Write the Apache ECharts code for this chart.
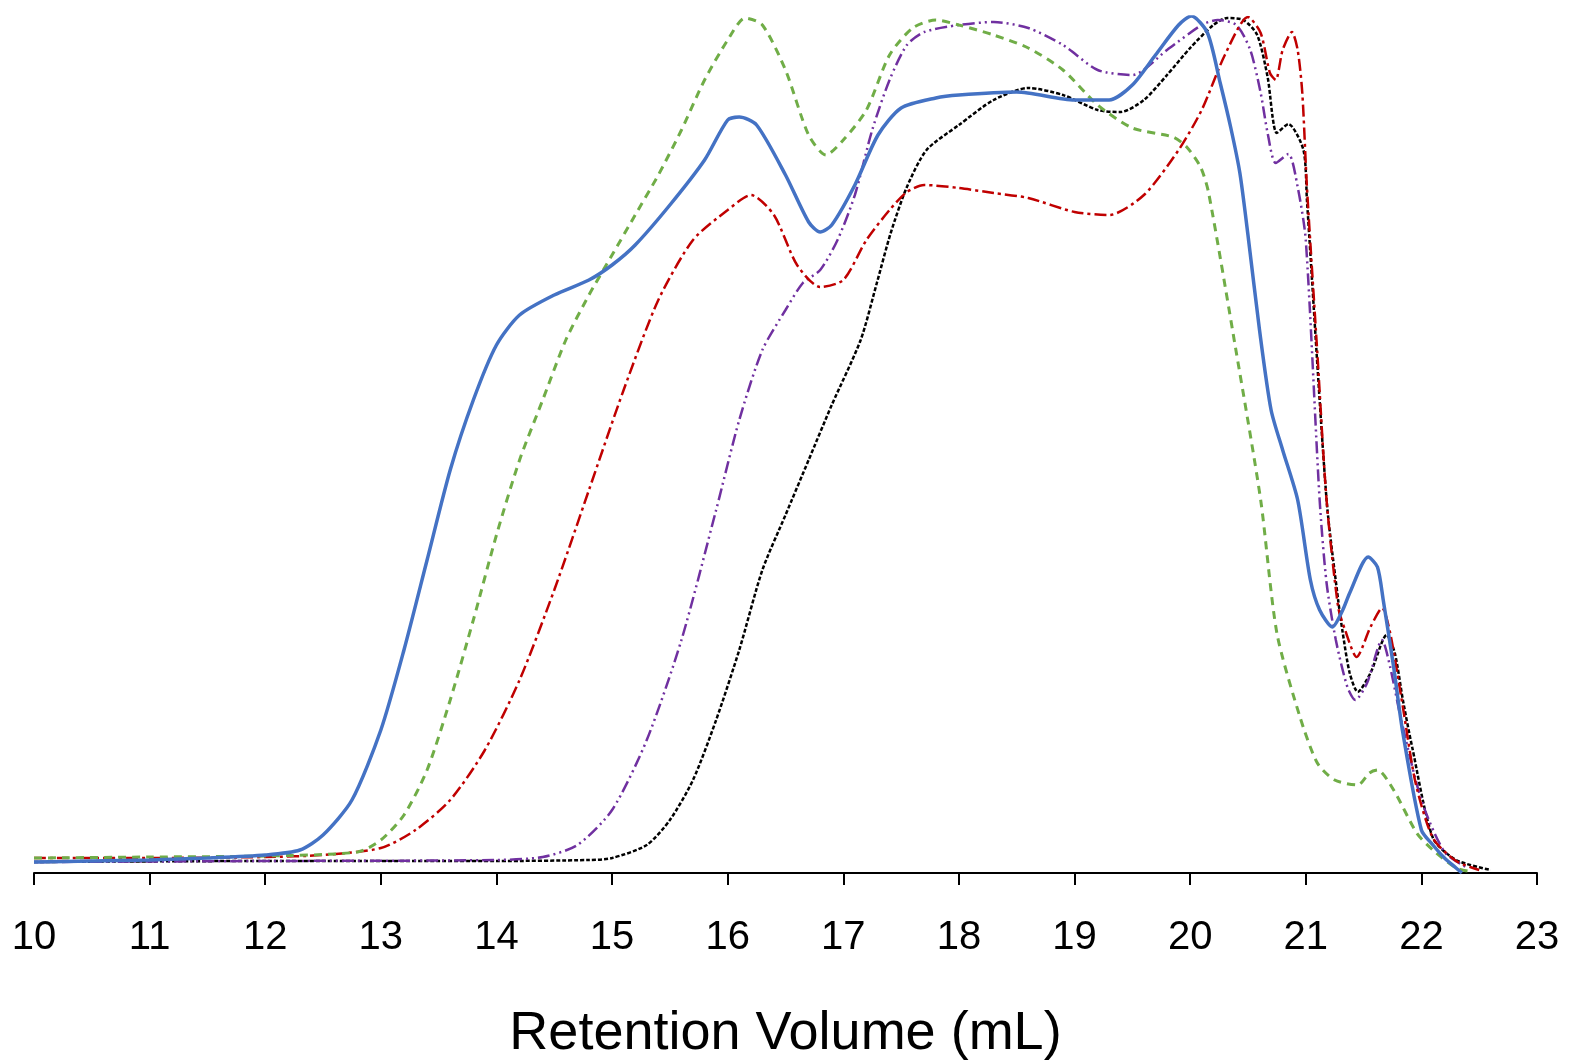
<!DOCTYPE html>
<html>
<head>
<meta charset="utf-8">
<script src="https://cdn.jsdelivr.net/npm/echarts@6/dist/echarts.min.js"></script>
<style>html,body{margin:0;padding:0;background:#fff}#c{width:1570px;height:1063px}</style>
</head>
<body>
<div id="c"></div>
<script>
// x: retention volume (mL), y: detector response (arbitrary units)
const xTicks = [10,11,12,13,14,15,16,17,18,19,20,21,22,23];

const blueSolid = [[10.0,11],[10.5,12],[11.0,13],[11.5,15],[12.0,18],[12.3,23],[12.5,38],[12.75,73],[13.0,143],[13.2,223],[13.4,313],[13.6,403],[13.8,473],[14.0,528],[14.2,558],[14.5,578],[14.8,593],[15.0,608],[15.2,628],[15.5,668],[15.8,713],[16.0,753],[16.1,756],[16.25,748],[16.5,698],[16.7,651],[16.8,641],[16.9,648],[17.1,688],[17.3,738],[17.5,765],[17.8,775],[18.0,778],[18.5,781],[19.0,773],[19.3,773],[19.5,788],[19.7,818],[19.9,848],[20.01,857],[20.15,840],[20.26,790],[20.35,746],[20.43,700],[20.5,638],[20.6,543],[20.7,463],[20.8,423],[20.93,373],[21.04,293],[21.12,263],[21.23,246],[21.32,263],[21.38,280],[21.54,316],[21.62,306],[21.67,273],[21.76,206],[21.84,140],[22.0,43],[22.1,28],[22.2,15],[22.3,5],[22.35,0]];

const greenDashed = [[10,15],[11,16],[12,17],[12.8,21],[13.0,33],[13.2,58],[13.4,103],[13.6,173],[13.8,253],[14.0,338],[14.2,413],[14.4,473],[14.6,533],[14.8,578],[15.0,618],[15.2,658],[15.4,698],[15.6,743],[15.8,793],[16.0,833],[16.15,855],[16.3,848],[16.5,803],[16.7,738],[16.85,718],[17.0,733],[17.2,763],[17.4,818],[17.6,845],[17.8,853],[18.0,848],[18.3,838],[18.6,825],[18.9,803],[19.2,768],[19.5,745],[19.85,736],[19.97,726],[20.09,706],[20.16,680],[20.4,520],[20.61,373],[20.75,240],[20.95,156],[21.1,110],[21.25,93],[21.45,88],[21.55,100],[21.62,103],[21.76,83],[21.96,40],[22.1,23],[22.3,5],[22.4,2]];

const redDashDot = [[10,15],[11,15],[12,16],[12.5,18],[13.0,25],[13.3,43],[13.6,73],[13.9,123],[14.2,193],[14.5,283],[14.8,383],[15.1,483],[15.4,573],[15.7,633],[16.0,663],[16.2,678],[16.4,658],[16.6,608],[16.8,586],[17.0,593],[17.2,633],[17.4,663],[17.55,681],[17.7,688],[18.0,685],[18.3,680],[18.6,675],[19.0,661],[19.3,658],[19.6,678],[19.9,723],[20.1,763],[20.3,818],[20.5,856],[20.61,840],[20.69,800],[20.74,793],[20.8,823],[20.88,841],[20.93,823],[20.97,780],[21.01,686],[21.1,520],[21.18,373],[21.28,266],[21.34,243],[21.44,216],[21.56,246],[21.66,265],[21.73,240],[21.84,166],[21.95,90],[22.1,35],[22.3,12],[22.5,3]];

const purpleDashDotDot = [[10,11],[12,12],[14,13],[14.4,16],[14.7,28],[15.0,63],[15.3,133],[15.6,233],[15.9,363],[16.1,453],[16.3,523],[16.5,563],[16.65,590],[16.8,603],[16.95,633],[17.1,678],[17.25,743],[17.4,793],[17.55,828],[17.7,841],[18.0,848],[18.3,851],[18.6,845],[18.9,828],[19.2,803],[19.5,798],[19.8,823],[20.1,848],[20.24,853],[20.4,848],[20.52,823],[20.61,780],[20.67,740],[20.74,710],[20.85,719],[20.93,686],[21.0,633],[21.12,373],[21.18,290],[21.26,233],[21.36,186],[21.43,173],[21.53,190],[21.66,233],[21.73,206],[21.82,156],[22.0,73],[22.2,21],[22.4,5]];

const blackDotted = [[10,11],[12,12],[14,12],[14.8,13],[15.0,15],[15.3,28],[15.5,53],[15.7,93],[15.9,153],[16.1,223],[16.3,303],[16.5,358],[16.7,413],[16.9,468],[17.15,533],[17.29,590],[17.41,640],[17.55,686],[17.72,723],[18.0,748],[18.3,773],[18.6,785],[18.9,778],[19.2,763],[19.4,761],[19.6,773],[19.8,798],[20.0,825],[20.2,848],[20.32,855],[20.46,853],[20.58,838],[20.67,796],[20.75,740],[20.85,749],[20.98,723],[21.01,673],[21.18,373],[21.28,273],[21.32,240],[21.38,200],[21.45,181],[21.56,200],[21.7,238],[21.77,220],[21.84,173],[21.92,126],[22.1,35],[22.3,13],[22.6,3]];

const chart = echarts.init(document.getElementById('c'));
const FONT = '"Liberation Sans", Arial, sans-serif';
function line(name, data, color, width, dash) {
  return { name, type: 'line', data, showSymbol: false, smooth: 0.25, animation: false,
    lineStyle: { color, width, type: dash, cap: 'butt' } };
}
chart.setOption({
  animation: false,
  grid: { left: 34, right: 33, top: 17, bottom: 190, containLabel: false, outerBoundsMode: 'none' },
  xAxis: {
    type: 'value', min: 10, max: 23, interval: 1,
    axisLine: { show: true, lineStyle: { color: '#000', width: 2 } },
    axisTick: { show: true, inside: false, length: 12, lineStyle: { color: '#000', width: 2 } },
    axisLabel: { color: '#000', fontSize: 40, fontFamily: FONT, margin: 45,
      formatter: v => xTicks.includes(v) ? String(v) : '' },
    splitLine: { show: false },
    name: 'Retention Volume (mL)', nameLocation: 'middle', nameGap: 134,
    nameTextStyle: { color: '#000', fontSize: 54, fontFamily: FONT }
  },
  yAxis: { type: 'value', min: 0, max: 856, show: false, splitLine: { show: false } },
  series: [
    line('black', blackDotted, '#000000', 2.5, [4, 2]),
    line('purple', purpleDashDotDot, '#7030A0', 2.5, [12, 4, 2, 4, 2, 4]),
    line('red', redDashDot, '#C00000', 2.5, [12, 4, 3, 4]),
    line('green', greenDashed, '#70AD47', 3, [8, 6]),
    line('blue', blueSolid, '#4472C4', 3.5, 'solid')
  ]
});
</script>
</body>
</html>
